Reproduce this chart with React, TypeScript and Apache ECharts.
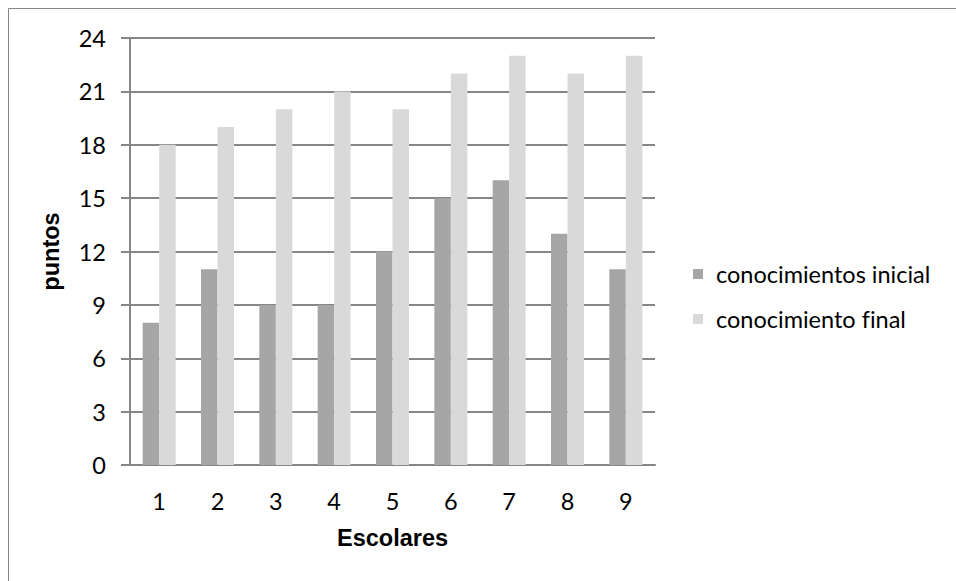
import React, { useEffect, useRef } from "react";
import * as echarts from "echarts";

const categories = ["1", "2", "3", "4", "5", "6", "7", "8", "9"];
const inicial = [8, 11, 9, 9, 12, 15, 16, 13, 11];
const final = [18, 19, 20, 21, 20, 22, 23, 22, 23];
const seriesNames = ["conocimientos inicial", "conocimiento final"];

export default function App() {
  const ref = useRef<HTMLDivElement>(null);
  useEffect(() => {
    document.body.style.margin = "0";
    const chart = echarts.init(ref.current!, null, { renderer: "svg" });
    const font = "Lato, 'Open Sans', sans-serif";
    const fs = 23.5;
    chart.setOption({
      animation: false,
      backgroundColor: "#ffffff",
      graphic: [
        {
          type: "rect",
          shape: { x: 8.5, y: 8.5, width: 1000, height: 1000 },
          style: { fill: "none", stroke: "#868686", lineWidth: 1 },
          silent: true,
        },
      ],
      grid: { left: 130, right: 301, top: 38, bottom: 116, containLabel: false },
      legend: {
        orient: "vertical",
        left: 693,
        top: 261,
        padding: 0,
        itemWidth: 10,
        itemHeight: 10,
        itemGap: 19,
        icon: "rect",
        textStyle: { fontFamily: font, fontSize: fs, color: "#000", padding: [0, 0, 0, 8], lineHeight: 26 },
        data: seriesNames,
      },
      xAxis: {
        type: "category",
        data: categories,
        name: "Escolares",
        nameLocation: "middle",
        nameGap: 61,
        nameTextStyle: { fontFamily: "'Liberation Sans', Arial", fontWeight: "bold", fontSize: 23.5, color: "#000" },
        axisLine: { lineStyle: { color: "#868686", width: 2 } },
        axisTick: { show: false },
        axisLabel: { fontFamily: font, fontSize: fs, color: "#000", margin: 24 },
      },
      yAxis: {
        type: "value",
        min: 0,
        max: 24,
        interval: 3,
        name: "puntos",
        nameLocation: "middle",
        nameGap: 67,
        nameTextStyle: { fontFamily: "'Liberation Sans', Arial", fontWeight: "bold", fontSize: 23.5, color: "#000" },
        axisLine: { show: true, lineStyle: { color: "#868686", width: 2 } },
        axisTick: { show: true, length: 9, lineStyle: { color: "#868686", width: 2 } },
        splitLine: { lineStyle: { color: "#868686", width: 2 } },
        axisLabel: { fontFamily: font, fontSize: fs, color: "#000", margin: 24 },
      },
      series: [
        {
          name: seriesNames[0],
          type: "bar",
          data: inicial,
          barWidth: 16.5,
          barGap: "0%",
          itemStyle: { color: "#a6a6a6" },
        },
        {
          name: seriesNames[1],
          type: "bar",
          data: final,
          barWidth: 16.5,
          barGap: "0%",
          itemStyle: { color: "#d9d9d9" },
        },
      ],
    });
    return () => chart.dispose();
  }, []);
  return <div ref={ref} style={{ width: 956, height: 581, fontVariantLigatures: "none" }} />;
}
